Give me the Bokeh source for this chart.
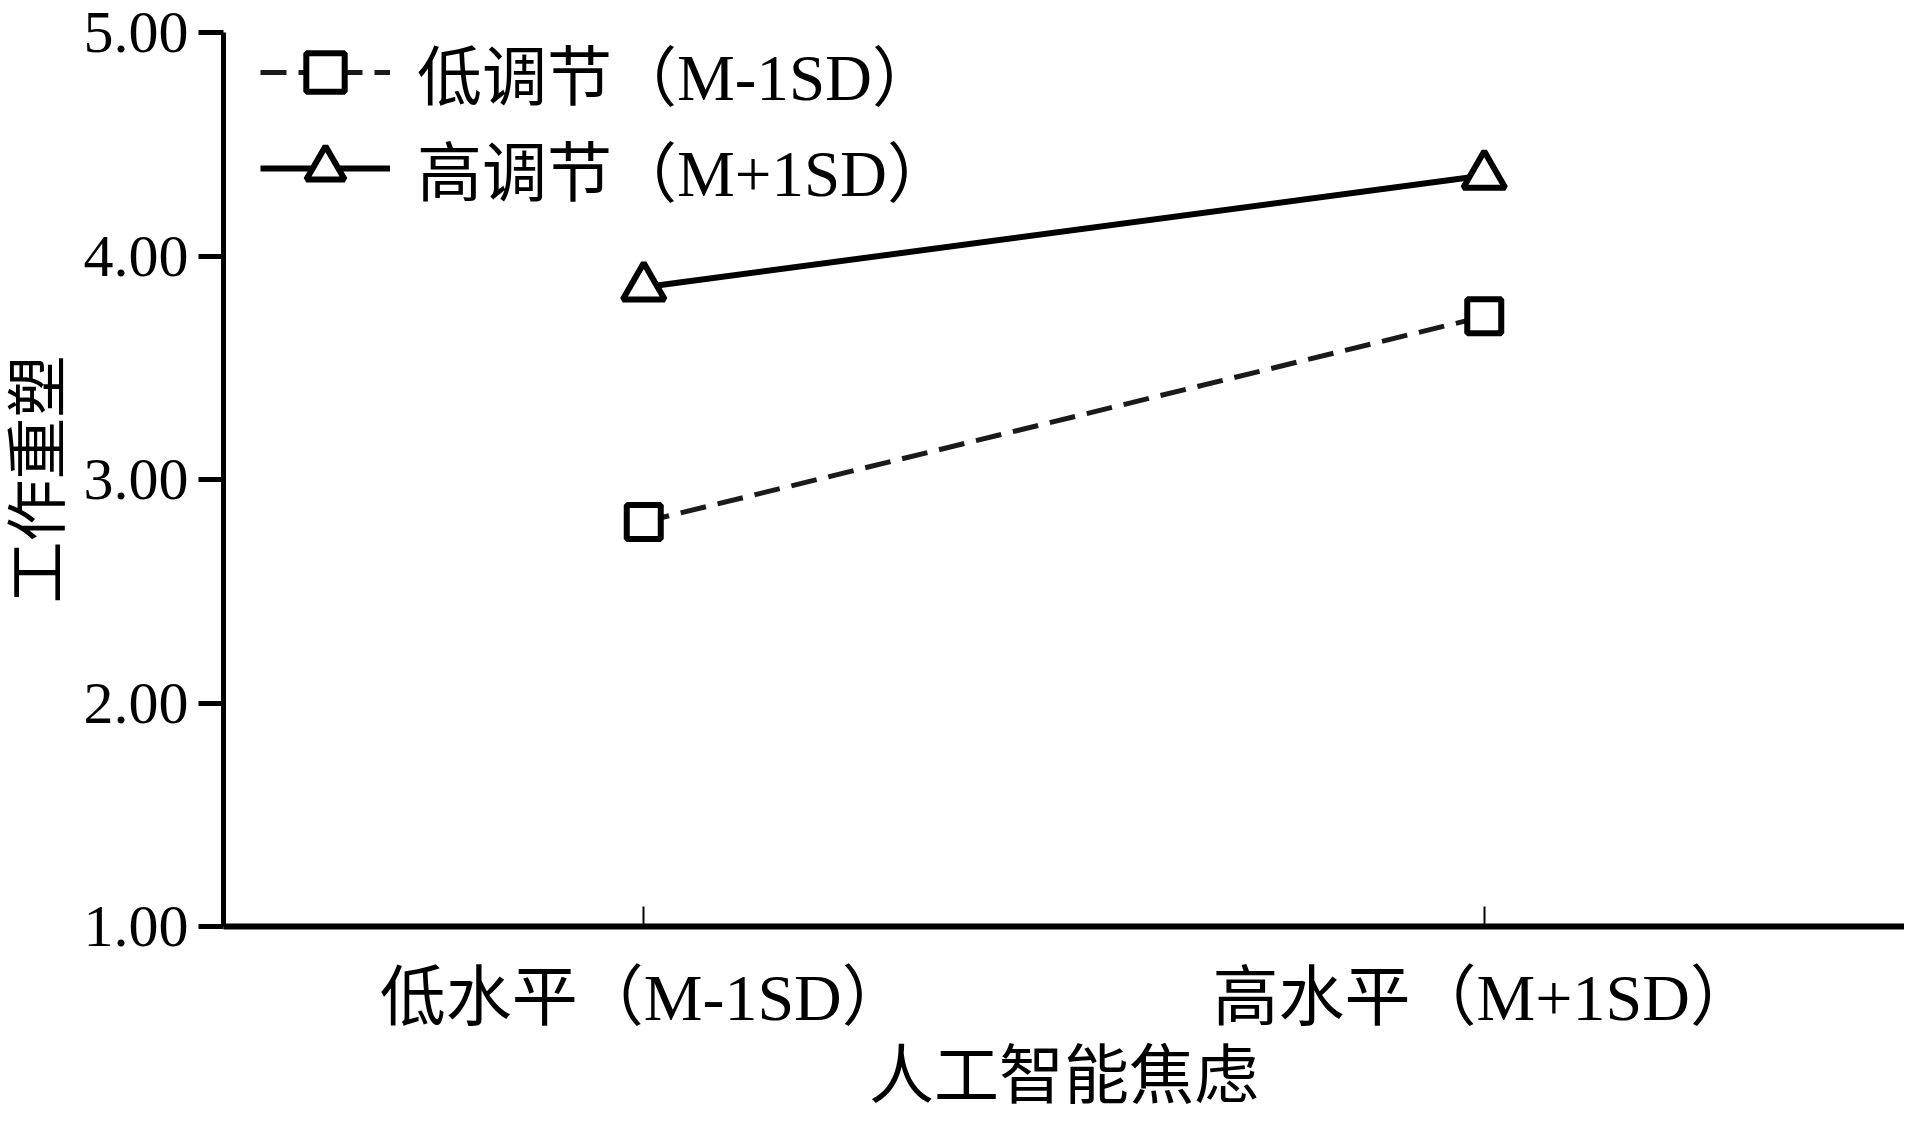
from bokeh.plotting import figure
from bokeh.models import Range1d, FactorRange, FixedTicker, NumeralTickFormatter, Legend, LegendItem
from bokeh.embed import file_html
from bokeh.resources import INLINE

# ---- data ----
categories = ["低水平（M-1SD）", "高水平（M+1SD）"]
low_moderation = [2.81, 3.73]    # 低调节（M-1SD）
high_moderation = [3.86, 4.36]   # 高调节（M+1SD）
legend_labels = ["低调节（M-1SD）", "高调节（M+1SD）"]
y_ticks = [1.0, 2.0, 3.0, 4.0, 5.0]
x_title = "人工智能焦虑"
y_title = "工作重塑"

SERIF_CJK = "'Liberation Serif', 'Noto Sans CJK SC'"

p = figure(
    width=1904, height=1114,
    x_range=FactorRange(factors=categories, range_padding=0),
    y_range=Range1d(1.0, 5.0),
    output_backend="svg", toolbar_location=None,
    min_border_left=223, min_border_right=0, min_border_top=32, min_border_bottom=188,
)
p.outline_line_color = None
p.xgrid.visible = False
p.ygrid.visible = False
p.background_fill_color = "white"
p.border_fill_color = "white"

# series
l_low = p.line(categories, low_moderation, line_color="#1a1a1a", line_width=5, line_dash="26 12")
s_low = p.scatter(categories, low_moderation, marker="square", size=34, fill_color="white",
                  line_color="black", line_width=6)
l_high = p.line(categories, high_moderation, line_color="black", line_width=6)
s_high = p.scatter(categories, high_moderation, marker="triangle", size=42, fill_color="white",
                   line_color="black", line_width=6)

# axes
xa = p.xaxis[0]
xa.axis_line_width = 6
xa.axis_line_color = "black"
xa.major_tick_in = 20
xa.major_tick_out = 0
xa.major_tick_line_width = 2
xa.major_tick_line_color = "black"
xa.minor_tick_line_color = None
xa.major_label_text_font = SERIF_CJK
xa.major_label_text_font_size = "66px"
xa.major_label_text_color = "black"
xa.major_label_standoff = 34
xa.axis_label = x_title
xa.axis_label_text_font = SERIF_CJK
xa.axis_label_text_font_size = "65px"
xa.axis_label_text_font_style = "normal"
xa.axis_label_text_color = "black"
xa.axis_label_standoff = 3

ya = p.yaxis[0]
ya.ticker = FixedTicker(ticks=y_ticks)
ya.formatter = NumeralTickFormatter(format="0.00")
ya.axis_line_width = 5
ya.axis_line_color = "black"
ya.major_tick_in = 0
ya.major_tick_out = 25
ya.major_tick_line_width = 5
ya.major_tick_line_color = "black"
ya.minor_tick_line_color = None
ya.major_label_text_font = "Liberation Serif"
ya.major_label_text_font_size = "60px"
ya.major_label_text_color = "black"
ya.major_label_standoff = 10
ya.axis_label = y_title
ya.axis_label_text_font = SERIF_CJK
ya.axis_label_text_font_size = "62px"
ya.axis_label_text_font_style = "normal"
ya.axis_label_text_color = "black"
ya.axis_label_standoff = 8

legend = Legend(
    items=[
        LegendItem(label=legend_labels[0], renderers=[l_low, s_low]),
        LegendItem(label=legend_labels[1], renderers=[l_high, s_high]),
    ],
    location=(37, 710),
    glyph_width=130, glyph_height=96, spacing=-8, padding=0, margin=0,
    label_standoff=27, label_text_line_height=1.0,
    label_text_font=SERIF_CJK, label_text_font_size="65px", label_text_color="black",
    border_line_color=None, background_fill_alpha=0,
)
p.add_layout(legend, "center")

open("out.html", "w").write(file_html(p, INLINE))
